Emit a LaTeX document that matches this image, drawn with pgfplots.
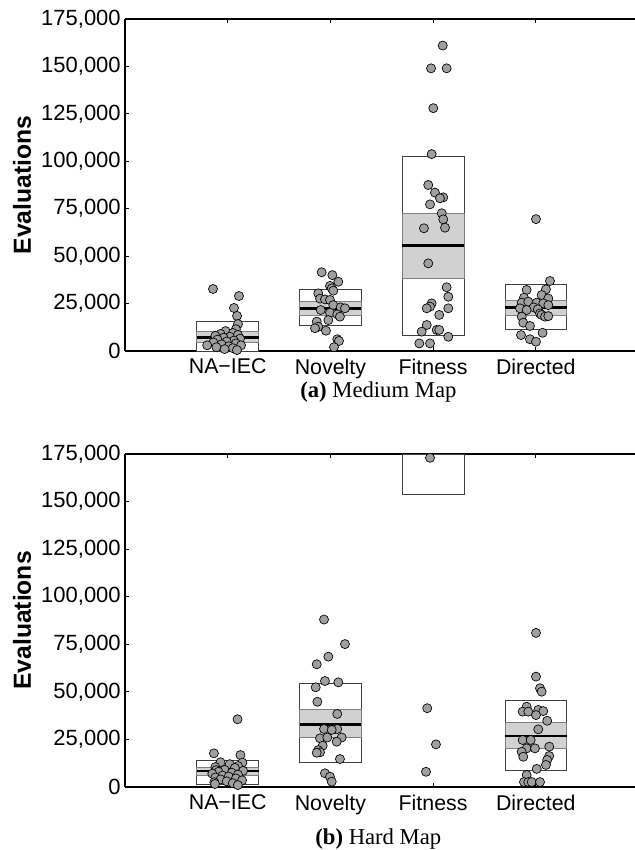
\documentclass[border=0pt]{standalone}
\usepackage{fontspec}
\setmainfont{Liberation Serif}
\setsansfont{Liberation Sans}
\usepackage{pgfplots}
\pgfplotsset{compat=1.18}

\pgfplotsset{
  evalaxis/.style={
    scale only axis,
    width=382.5pt,
    xmin=0, xmax=4.966,
    ymin=0, ymax=175000,
    axis x line*=box,
    axis y line*=left,
    axis line style={line width=1pt},
    clip=false,
    xtick={1,2,3,4},
    xticklabels={NA−IEC,Novelty,Fitness,Directed},
    ytick={0,25000,50000,75000,100000,125000,150000,175000},
    yticklabels={0,{25,000},{50,000},{75,000},{100,000},{125,000},{150,000},{175,000}},
    scaled y ticks=false,
    tick align=inside,
    major tick length=3pt,
    tick style={black, line width=0.6pt},
    yticklabel style={font=\sffamily\fontsize{16.5}{18}\selectfont, inner sep=3pt},
    xticklabel style={font=\sffamily\fontsize{16}{18}\selectfont, inner sep=3pt, yshift=-2.5pt},
    ylabel={Evaluations},
    ylabel style={at={(axis description cs:-0.202,0.5)}, anchor=center,
      font=\sffamily\bfseries\fontsize{18.5}{21}\selectfont},
  },
  outerbox/.style={fill=white, draw=black!75, line width=0.6pt},
  cibox/.style={fill=black!18, draw=black!50, line width=0.6pt},
  meanline/.style={black, line width=2.2pt},
  pts/.style={only marks, mark=*, mark size=3.4pt,
    mark options={fill=gray!75, draw=black, line width=0.5pt}},
}

\begin{document}
\begin{tikzpicture}
% (a) Medium map
\begin{axis}[evalaxis, at={(0,0)}, anchor=south west, height=249pt]
  % NA-IEC
  \addplot[outerbox] coordinates {(0.7,0) (1.3,0) (1.3,15400) (0.7,15400)} --cycle;
  \addplot[cibox] coordinates {(0.7,4600) (1.3,4600) (1.3,10500) (0.7,10500)} --cycle;
  \addplot[meanline] coordinates {(0.7,7200) (1.3,7200)};
  % Novelty
  \addplot[outerbox] coordinates {(1.7,13500) (2.3,13500) (2.3,32500) (1.7,32500)} --cycle;
  \addplot[cibox] coordinates {(1.7,19000) (2.3,19000) (2.3,26200) (1.7,26200)} --cycle;
  \addplot[meanline] coordinates {(1.7,22300) (2.3,22300)};
  % Fitness
  \addplot[outerbox] coordinates {(2.7,8400) (3.3,8400) (3.3,102400) (2.7,102400)} --cycle;
  \addplot[cibox] coordinates {(2.7,38300) (3.3,38300) (3.3,72600) (2.7,72600)} --cycle;
  \addplot[meanline] coordinates {(2.7,55700) (3.3,55700)};
  % Directed
  \addplot[outerbox] coordinates {(3.7,11400) (4.3,11400) (4.3,35100) (3.7,35100)} --cycle;
  \addplot[cibox] coordinates {(3.7,19000) (4.3,19000) (4.3,26900) (3.7,26900)} --cycle;
  \addplot[meanline] coordinates {(3.7,23000) (4.3,23000)};

  \addplot[pts] table {
    x y
    0.857 32700
    1.110 29000
    1.061 22700
    1.091 18500
    1.100 14200
    1.08 11500
    0.98 10500
    1.05 9500
    0.93 9000
    1.10 8500
    0.88 8000
    1.02 7500
    0.96 7000
    1.12 6500
    0.90 6000
    1.06 5500
    0.99 5000
    0.86 4500
    1.08 4000
    0.94 3500
    1.13 3000
    0.80 3000
    1.01 2500
    0.89 2000
    1.05 1500
    0.97 1000
    1.09 500
  };
  \addplot[pts] table {
    x y
    1.915 41500
    2.019 40000
    2.077 36500
    1.996 34300
    2.013 33000
    2.028 31800
    1.882 30400
    1.899 27600
    1.947 27200
    1.996 26900
    2.028 24200
    2.10 23000
    1.906 21600
    2.142 22500
    1.996 20200
    2.067 19300
    2.093 18100
    1.980 16300
    1.867 15500
    1.882 12800
    1.85 12000
    1.957 10700
    2.067 6200
    2.084 5300
    2.035 2000
  };
  \addplot[pts] table {
    x y
    3.094 161000
    2.980 149000
    3.132 149000
    3.002 128000
    2.986 103800
    2.953 87500
    3.018 83500
    3.099 81000
    3.067 80500
    2.970 77300
    3.084 72600
    3.099 69400
    3.116 65000
    2.911 64700
    2.953 46200
    3.132 33600
    3.148 28600
    2.986 25100
    2.970 23400
    2.938 22500
    3.148 22500
    3.060 19000
    2.938 13700
    3.035 11100
    3.060 11100
    2.889 10200
    3.148 7500
    2.866 4000
    2.970 4000
  };
  \addplot[pts] table {
    x y
    4.002 69500
    4.138 36900
    4.099 32500
    3.911 32200
    4.057 29500
    3.885 28100
    4.122 27700
    3.863 25500
    3.927 26000
    4.009 25500
    4.073 25100
    4.122 24200
    3.98 23000
    4.02 22000
    3.846 22500
    3.911 21600
    4.041 19800
    4.057 19000
    4.090 18100
    4.122 18400
    3.863 18100
    3.878 14900
    3.943 13200
    4.066 9600
    3.856 8400
    3.943 6200
    4.002 4900
  };
\end{axis}
\node[font=\fontsize{17}{19}\selectfont] at (190pt,-30.75pt) {\textbf{(a)} Medium Map};

% (b) Hard map
\begin{axis}[evalaxis, at={(0,-77.25pt)}, anchor=north west, height=249.75pt]
  % NA-IEC
  \addplot[outerbox] coordinates {(0.7,1400) (1.3,1400) (1.3,14200) (0.7,14200)} --cycle;
  \addplot[cibox] coordinates {(0.7,6300) (1.3,6300) (1.3,10300) (0.7,10300)} --cycle;
  \addplot[meanline] coordinates {(0.7,8400) (1.3,8400)};
  % Novelty
  \addplot[outerbox] coordinates {(1.7,12800) (2.3,12800) (2.3,54500) (1.7,54500)} --cycle;
  \addplot[cibox] coordinates {(1.7,26000) (2.3,26000) (2.3,41000) (1.7,41000)} --cycle;
  \addplot[meanline] coordinates {(1.7,33000) (2.3,33000)};
  % Fitness (box runs past the top)
  \addplot[outerbox] coordinates {(2.7,154000) (3.3,154000) (3.3,175000) (2.7,175000)} --cycle;
  % Directed
  \addplot[outerbox] coordinates {(3.7,8600) (4.3,8600) (4.3,45700) (3.7,45700)} --cycle;
  \addplot[cibox] coordinates {(3.7,20300) (4.3,20300) (4.3,34000) (3.7,34000)} --cycle;
  \addplot[meanline] coordinates {(3.7,26800) (4.3,26800)};

  \addplot[pts] table {
    x y
    1.096 35600
    0.866 17700
    1.124 16800
    1.143 12800
    0.93 13000
    1.02 12000
    1.10 11000
    0.88 10500
    1.07 10000
    0.97 9000
    0.888 8900
    1.15 8500
    0.91 8000
    1.04 7500
    0.85 7000
    1.10 6500
    0.95 6000
    1.01 5500
    0.88 5000
    1.08 4500
    0.93 4000
    1.14 3500
    0.99 3000
    0.87 2500
    1.05 2000
    0.876 1600
    1.099 1000
  };
  \addplot[pts] table {
    x y
    1.938 88000
    2.142 75100
    1.980 68500
    1.867 64500
    1.947 55700
    2.077 55000
    1.857 52400
    1.873 44800
    2.067 38400
    1.938 30500
    2.045 30500
    2.067 30500
    2.013 30000
    1.899 25600
    2.110 26000
    1.970 26000
    2.061 23800
    1.925 21700
    1.882 19400
    1.899 18200
    1.867 18000
    2.093 14700
    1.947 7200
    1.996 5400
    2.013 2800
  };
  \addplot[pts] table {
    x y
    2.970 173000
    2.943 41400
    3.028 22400
    2.931 8000
  };
  \addplot[pts] table {
    x y
    4.002 81000
    4.002 58000
    4.041 51900
    4.057 50100
    3.911 42200
    3.872 39600
    3.927 39600
    4.024 40500
    4.073 39900
    4.002 37800
    4.111 34800
    4.024 30300
    3.872 24700
    3.950 24700
    3.911 20300
    3.992 20300
    3.862 18500
    4.131 21200
    3.878 15900
    4.131 16300
    4.111 14200
    4.099 11600
    4.009 9500
    3.911 6300
    3.885 2600
    3.927 2600
    3.960 2600
    4.041 2600
  };
\end{axis}
\node[font=\fontsize{17}{19}\selectfont] at (190pt,-366pt) {\textbf{(b)} Hard Map};

\pgfresetboundingbox
\path[use as bounding box] (-93.75pt,-374.25pt) rectangle (382.5pt,263.25pt);
\end{tikzpicture}
\end{document}
